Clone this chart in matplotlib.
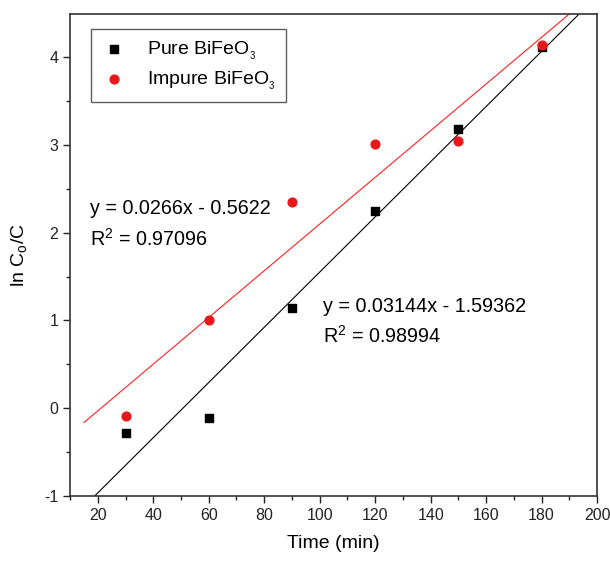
import numpy as np
import matplotlib
matplotlib.use('Agg')
import matplotlib.pyplot as plt
from matplotlib.ticker import MultipleLocator

plt.rcParams['font.family'] = ['Liberation Sans', 'DejaVu Sans']
plt.rcParams['axes.unicode_minus'] = False

# data
time = [30, 60, 90, 120, 150, 180]
pure = [-0.28, -0.11, 1.14, 2.25, 3.18, 4.12]
impure = [-0.09, 1.00, 2.35, 3.01, 3.04, 4.14]

# linear fits as printed on the chart
pure_slope, pure_icpt = 0.03144, -1.59362
impure_slope, impure_icpt = 0.0266, -0.5622
pure_fit_x = [19, 194]
impure_fit_x = [15, 190.3]

fig = plt.figure(figsize=(6.10, 5.63), dpi=100)
ax = fig.add_axes([0.1148, 0.119, 0.864, 0.856])

xp = np.array(pure_fit_x)
xi = np.array(impure_fit_x)
ax.plot(xp, pure_slope * xp + pure_icpt, color='black', lw=0.8)
ax.plot(xi, impure_slope * xi + impure_icpt, color='#ff2020', lw=0.8)

ax.scatter(time, pure, marker='s', s=40, color='black', label='Pure BiFeO$_\\mathregular{_3}$', zorder=3)
ax.scatter(time, impure, marker='o', s=40, color='#e8191c', label='Impure BiFeO$_\\mathregular{_3}$', zorder=3)

ax.set_xlim(10, 200)
ax.set_ylim(-1, 4.49)
ax.xaxis.set_major_locator(MultipleLocator(20))
ax.xaxis.set_minor_locator(MultipleLocator(10))
ax.yaxis.set_major_locator(MultipleLocator(1))
ax.yaxis.set_minor_locator(MultipleLocator(0.5))
ax.set_xticks([20, 40, 60, 80, 100, 120, 140, 160, 180, 200])
ax.tick_params(which='both', direction='out', top=False, right=False, labelsize=11.5, colors='#222222')
ax.tick_params(which='major', length=5, width=1)
ax.tick_params(which='minor', length=3, width=1)
for s in ax.spines.values():
    s.set_linewidth(1.2)
    s.set_color('#333333')

ax.set_xlabel('Time (min)', fontsize=14, labelpad=9)
ax.set_ylabel('ln C$_\\mathregular{o}$/C', fontsize=14, labelpad=10)

ax.text(17.2, 2.27, 'y = 0.0266x - 0.5622', fontsize=14.2, va='center')
ax.text(17.2, 1.93, 'R$^\\mathregular{2}$ = 0.97096', fontsize=14.2, va='center')
ax.text(101.3, 1.16, 'y = 0.03144x - 1.59362', fontsize=14.2, va='center')
ax.text(101.3, 0.83, 'R$^\\mathregular{2}$ = 0.98994', fontsize=14.2, va='center')

leg = ax.legend(loc='upper left', bbox_to_anchor=(0.04, 0.968), fontsize=14, frameon=True,
                fancybox=False, edgecolor='#333333', handletextpad=1.0, borderpad=0.5,
                labelspacing=0.4, handlelength=1.4, borderaxespad=0)
leg.get_frame().set_linewidth(1.0)

fig.savefig('out.png', dpi=100)
